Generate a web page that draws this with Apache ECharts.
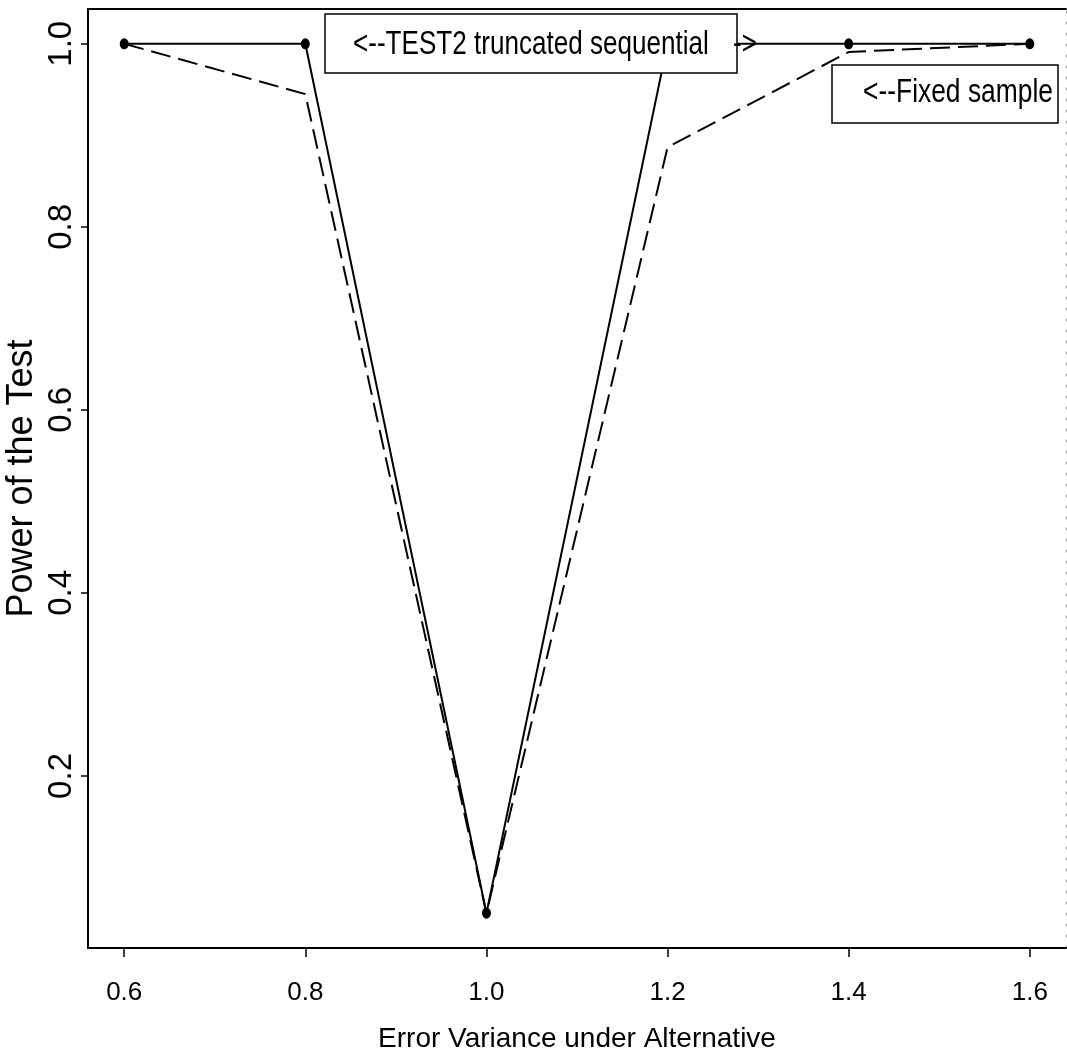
<!DOCTYPE html>
<html>
<head>
<meta charset="utf-8">
<script src="https://cdn.jsdelivr.net/npm/echarts@6/dist/echarts.min.js"></script>
<style>
  html, body { margin: 0; padding: 0; background: #ffffff; }
  #chart { width: 1067px; height: 1061px; }
</style>
</head>
<body>
<div id="chart"></div>
<script>
// Error variance under the alternative hypothesis
const variance = [0.6, 0.8, 1.0, 1.2, 1.4, 1.6];
// Power of TEST2 (truncated sequential procedure)
const powerSequential = [1.0, 1.0, 0.05, 1.0, 1.0, 1.0];
// Power of the fixed-sample test
const powerFixed = [1.0, 0.945, 0.05, 0.887, 0.991, 1.0];
// Tick positions
const xTicks = [0.6, 0.8, 1.0, 1.2, 1.4, 1.6];
const yTicks = [0.2, 0.4, 0.6, 0.8, 1.0];
// Annotation texts
const seqLabel = '<--TEST2 truncated sequential';
const seqArrow = '->';
const fixedLabel = '<--Fixed sample';

const FONT = '"Liberation Sans", Arial, Helvetica, sans-serif';
const X_RANGE = [0.56, 1.64];
const Y_RANGE = [0.012, 1.038];

const chart = echarts.init(document.getElementById('chart'), null, { renderer: 'canvas' });

const pairs = (xs, ys) => xs.map((x, i) => [x, ys[i]]);

const option = {
  backgroundColor: '#ffffff',
  animation: false,
  grid: { left: 88, right: 1, top: 9, bottom: 113, containLabel: false, outerBoundsMode: 'none' },
  xAxis: [
    {
      type: 'value',
      min: X_RANGE[0],
      max: X_RANGE[1],
      position: 'bottom',
      name: 'Error Variance under Alternative',
      nameLocation: 'middle',
      nameGap: 77,
      nameMoveOverlap: false,
      nameTextStyle: { fontFamily: FONT, fontSize: 28, color: '#000' },
      axisLine: { show: true, onZero: false, lineStyle: { color: '#000', width: 2 } },
      axisTick: { show: true, inside: false, length: 9, customValues: xTicks, lineStyle: { color: '#000', width: 1.5 } },
      axisLabel: {
        show: true, margin: 32, customValues: xTicks,
        fontFamily: FONT, fontSize: 26, color: '#000',
        formatter: v => v.toFixed(1)
      },
      splitLine: { show: false }
    },
    {
      type: 'value',
      min: X_RANGE[0],
      max: X_RANGE[1],
      position: 'top',
      axisLine: { show: true, onZero: false, lineStyle: { color: '#000', width: 2 } },
      axisTick: { show: false },
      axisLabel: { show: false },
      splitLine: { show: false }
    }
  ],
  yAxis: [
    {
      type: 'value',
      min: Y_RANGE[0],
      max: Y_RANGE[1],
      position: 'left',
      name: 'Power of the Test',
      nameLocation: 'middle',
      nameRotate: 90,
      nameGap: 48,
      nameMoveOverlap: false,
      nameTextStyle: { fontFamily: FONT, fontSize: 36, color: '#000' },
      axisLine: { show: true, onZero: false, lineStyle: { color: '#000', width: 2 } },
      axisTick: { show: true, inside: false, length: 7, customValues: yTicks, lineStyle: { color: '#000', width: 1.5 } },
      axisLabel: {
        show: true, margin: 14, rotate: 90, customValues: yTicks,
        fontFamily: FONT, fontSize: 33, lineHeight: 24, color: '#000',
        formatter: v => v.toFixed(1)
      },
      splitLine: { show: false }
    },
    {
      type: 'value',
      min: Y_RANGE[0],
      max: Y_RANGE[1],
      position: 'right',
      axisLine: { show: true, onZero: false, lineStyle: { color: '#9a9a9a', width: 1, type: [2, 9] } },
      axisTick: { show: false },
      axisLabel: { show: false },
      splitLine: { show: false }
    }
  ],
  series: [
    {
      name: 'Fixed sample',
      type: 'line',
      data: pairs(variance, powerFixed),
      showSymbol: false,
      symbol: 'none',
      lineStyle: { color: '#000', width: 2, type: [20, 8] },
      z: 2
    },
    {
      name: 'TEST2 truncated sequential',
      type: 'line',
      data: pairs(variance, powerSequential),
      symbol: 'circle',
      symbolSize: [9, 11],
      itemStyle: { color: '#000' },
      lineStyle: { color: '#000', width: 2 },
      z: 3
    }
  ],
  graphic: [
    {
      type: 'rect', z: 100,
      shape: { x: 325, y: 14, width: 412, height: 59 },
      style: { fill: '#fff', stroke: '#000', lineWidth: 1.5 }
    },
    {
      type: 'text', z: 101, x: 353, y: 45, scaleX: 0.79,
      style: { text: seqLabel, fontFamily: FONT, fontSize: 33, fill: '#000', align: 'left', verticalAlign: 'middle' }
    },
    {
      type: 'text', z: 101, x: 733, y: 45, scaleX: 0.79,
      style: { text: seqArrow, fontFamily: FONT, fontSize: 33, fill: '#000', align: 'left', verticalAlign: 'middle' }
    },
    {
      type: 'rect', z: 100,
      shape: { x: 832, y: 65, width: 226, height: 58 },
      style: { fill: '#fff', stroke: '#000', lineWidth: 1.5 }
    },
    {
      type: 'text', z: 101, x: 863, y: 93, scaleX: 0.8,
      style: { text: fixedLabel, fontFamily: FONT, fontSize: 33, fill: '#000', align: 'left', verticalAlign: 'middle' }
    }
  ]
};

chart.setOption(option);
</script>
</body>
</html>
